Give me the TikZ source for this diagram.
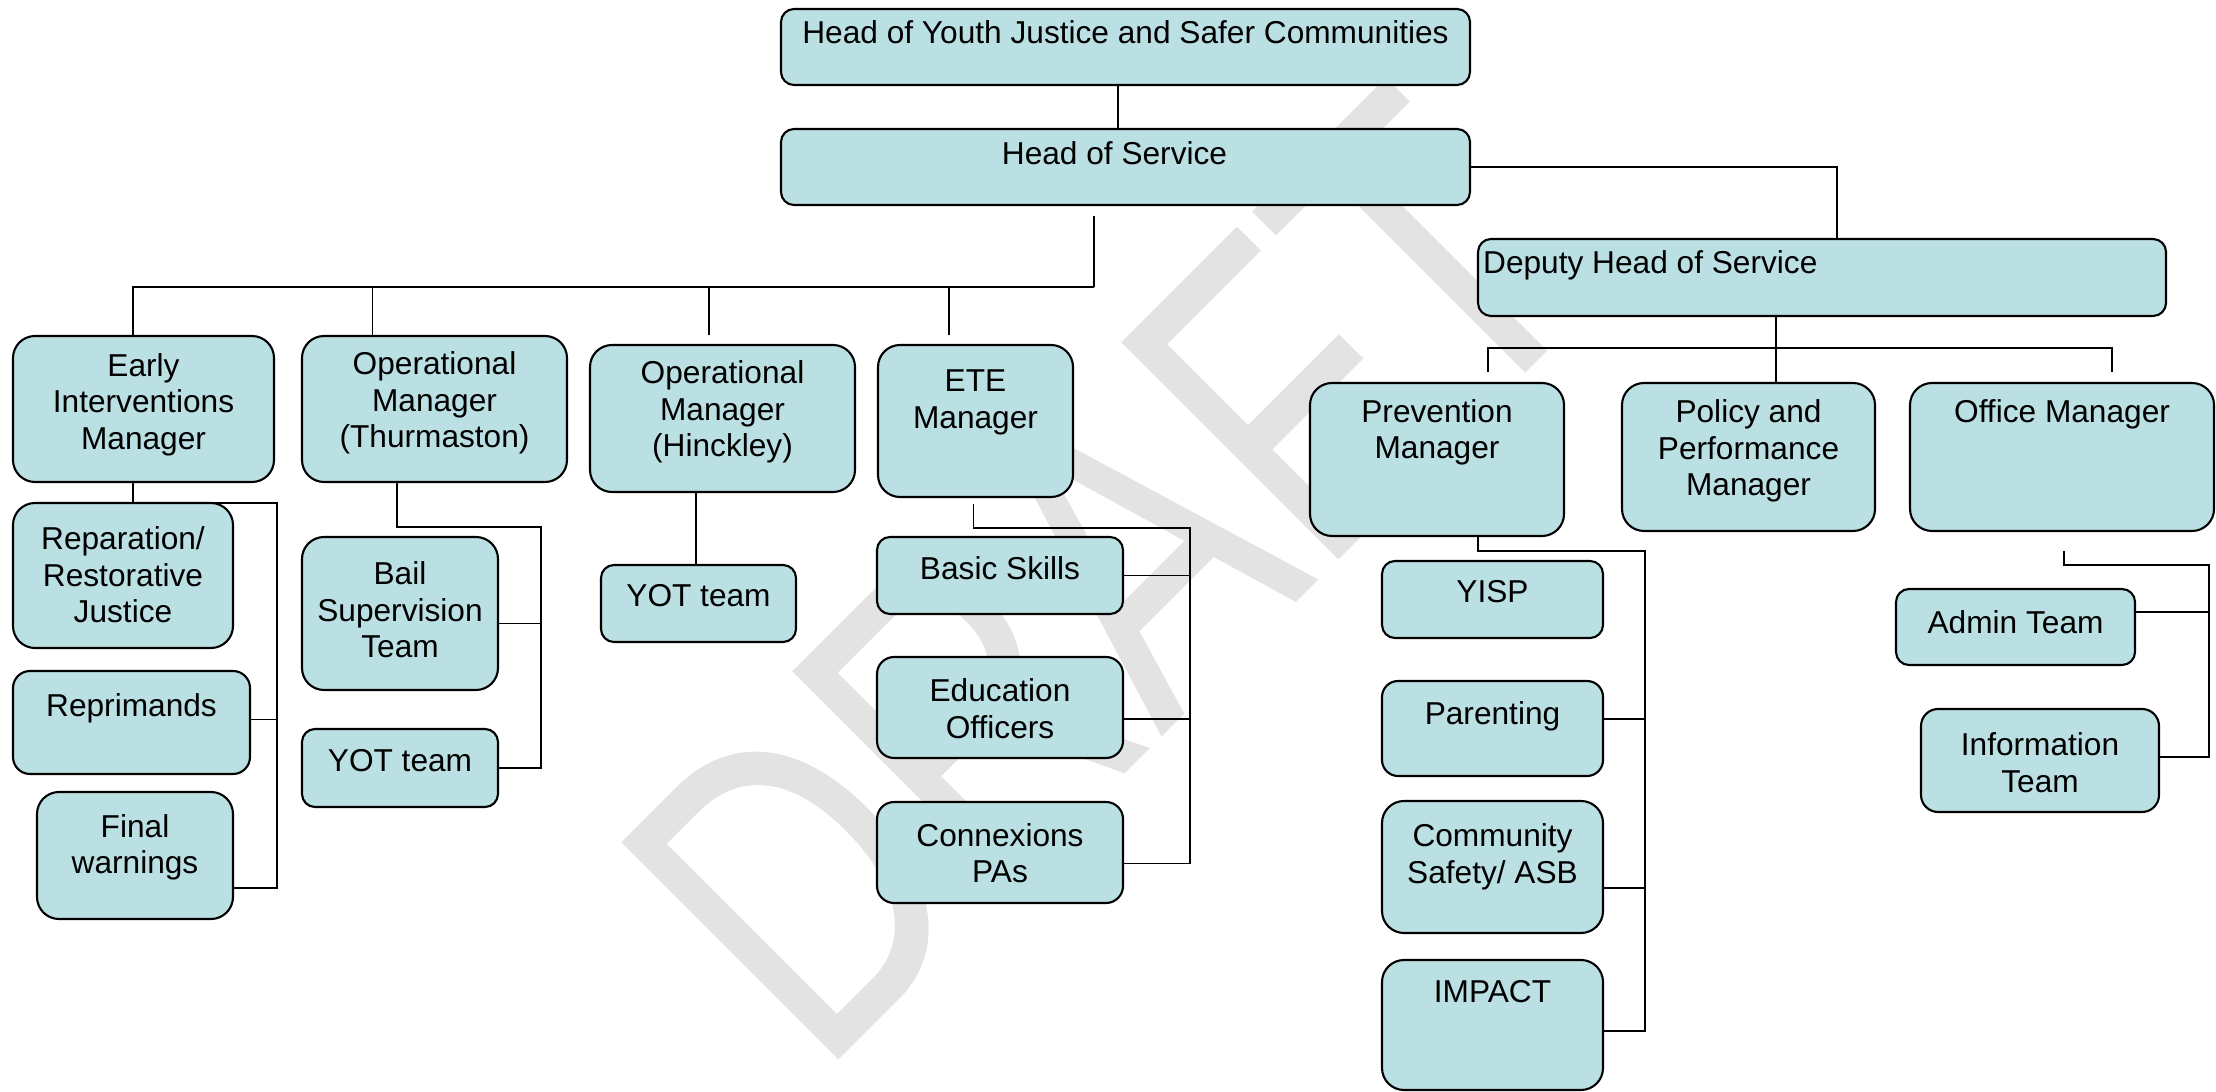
\documentclass[tikz,border=0pt]{standalone}
\usepackage{fontspec}
\setmainfont{Liberation Sans}
\usetikzlibrary{fit,positioning}
\definecolor{boxfill}{RGB}{187,224,227}

\begin{document}
\begin{tikzpicture}[x=0.01cm, y=-0.01cm,
   post/.style={draw, line width=0.6pt, fill=boxfill, rounded corners=0.22cm, inner sep=0pt},
   short post/.style={post, rounded corners=0.13cm},
   lbl/.style={anchor=north, align=center, inner sep=0pt, font=\fontsize{9}{10.4}\selectfont},
   link/.style={line width=0.55pt}]
   \useasboundingbox (0,0) rectangle (2216,1092);

   % watermark
   \node[rotate=45, anchor=base west, inner sep=0pt, text=black!11,
         font=\fontsize{127}{127}\selectfont] (draft) at (819,1080) {\scalebox{0.75}[1]{DRAFT}};

   % top of the chart
   \node[short post, fit={(781,9) (1470,85)},
         label={[lbl, yshift=-0.12cm]north:Head of Youth Justice and Safer Communities}] (hyj) {};
   \node[short post, fit={(781,129) (1470,205)},
         label={[lbl, xshift=-0.11cm, yshift=-0.127cm]north:Head of Service}] (hos) {};
   \node[short post, fit={(1478,239) (2166,316)},
         label={[lbl, anchor=north west, xshift=0.055cm, yshift=-0.12cm]north west:Deputy Head of Service}] (deputy) {};

   % managers
   \node[post, fit={(13,336) (274,482)}, label={[lbl, yshift=-0.176cm]north:Early\\Interventions\\Manager}] (early) {};
   \node[post, fit={(302,336) (567,482)}, label={[lbl, yshift=-0.16cm]north:Operational\\Manager\\(Thurmaston)}] (thurm) {};
   \node[post, fit={(590,345) (855,492)}, label={[lbl, yshift=-0.16cm]north:Operational\\Manager\\(Hinckley)}] (hinck) {};
   \node[post, fit={(878,345) (1073,497)}, label={[lbl, yshift=-0.25cm]north:ETE\\Manager}] (ete) {};
   \node[post, fit={(1310,383) (1564,536)}, label={[lbl, yshift=-0.165cm]north:Prevention\\Manager}] (prevention) {};
   \node[post, fit={(1622,383) (1875,531)}, label={[lbl, yshift=-0.17cm]north:Policy and\\Performance\\Manager}] (policy) {};
   \node[post, fit={(1910,383) (2214,531)}, label={[lbl, yshift=-0.17cm]north:Office Manager}] (office) {};

   % teams
   \node[post, fit={(13,503) (233,648)}, label={[lbl, yshift=-0.24cm]north:Reparation/\\Restorative\\Justice}] (reparation) {};
   \node[post, rounded corners=0.17cm, fit={(13,671) (250,774)}, label={[lbl, yshift=-0.23cm]north:Reprimands}] (reprimands) {};
   \node[post, fit={(37,792) (233,919)}, label={[lbl, yshift=-0.225cm]north:Final\\warnings}] (final) {};
   \node[post, fit={(302,537) (498,690)}, label={[lbl, yshift=-0.25cm]north:Bail\\Supervision\\Team}] (bail) {};
   \node[short post, fit={(302,729) (498,807)}, label={[lbl, yshift=-0.21cm]north:YOT team}] (yotth) {};
   \node[short post, fit={(601,565) (796,642)}, label={[lbl, yshift=-0.2cm]north:YOT team}] (yothk) {};
   \node[short post, fit={(877,537) (1123,614)}, label={[lbl, yshift=-0.2cm]north:Basic Skills}] (basic) {};
   \node[post, rounded corners=0.17cm, fit={(877,657) (1123,758)}, label={[lbl, yshift=-0.22cm]north:Education\\Officers}] (educ) {};
   \node[post, rounded corners=0.17cm, fit={(877,802) (1123,903)}, label={[lbl, yshift=-0.215cm]north:Connexions\\PAs}] (connex) {};
   \node[short post, fit={(1382,561) (1603,638)}, label={[lbl, yshift=-0.2cm]north:YISP}] (yisp) {};
   \node[post, rounded corners=0.16cm, fit={(1382,681) (1603,776)}, label={[lbl, yshift=-0.21cm]north:Parenting}] (parenting) {};
   \node[post, fit={(1382,801) (1603,933)}, label={[lbl, yshift=-0.23cm]north:Community\\Safety/ ASB}] (community) {};
   \node[post, fit={(1382,960) (1603,1090)}, label={[lbl, yshift=-0.21cm]north:IMPACT}] (impact) {};
   \node[short post, fit={(1896,589) (2135,665)}, label={[lbl, yshift=-0.22cm]north:Admin Team}] (admin) {};
   \node[post, rounded corners=0.17cm, fit={(1921,709) (2159,812)}, label={[lbl, yshift=-0.24cm]north:Information\\Team}] (info) {};

   % junctions
   \coordinate (hosbus) at (1094,287);
   \coordinate (eispine) at (277,503);
   \coordinate (thspine) at (541,527);
   \coordinate (etespine) at (1190,528);
   \coordinate (depbus) at (1776,348);
   \coordinate (prvspine) at (1645,551);
   \coordinate (offspine) at (2209,565);

   % lines
   \draw[link] ([xshift=-0.075cm]hyj.south) -- ([xshift=-0.075cm]hos.north);
   \draw[link] ([xshift=-0.315cm, yshift=-0.1cm]hos.south) |- (hosbus) -| ([xshift=-0.104cm]early.north);
   \draw[link] ([xshift=-0.62cm]thurm.north) -- ([xshift=-0.62cm]thurm.north |- hosbus);
   \draw[link] ([xshift=-0.138cm, yshift=0.087cm]hinck.north) -- ([xshift=-0.138cm]hinck.north |- hosbus);
   \draw[link] ([xshift=-0.265cm, yshift=0.087cm]ete.north) -- ([xshift=-0.265cm]ete.north |- hosbus);

   \draw[link] ([xshift=-0.104cm]early.south) |- (eispine) |- ([yshift=-0.325cm]final.east);
   \draw[link] ([yshift=0.03cm]reprimands.east) -- ([yshift=0.03cm]reprimands.east -| eispine);

   \draw[link] ([xshift=-0.375cm]thurm.south) |- (thspine) |- (yotth.east);
   \draw[link] ([yshift=-0.1cm]bail.east) -- ([yshift=-0.1cm]bail.east -| thspine);

   \draw[link] ([xshift=-0.025cm]yothk.north) -- ([xshift=-0.025cm]yothk.north |- hinck.south);

   \draw[link] ([xshift=-0.02cm, yshift=-0.06cm]ete.south) |- (etespine) |- ([yshift=-0.11cm]connex.east);
   \draw[link] (basic.east) -- (basic.east -| etespine);
   \draw[link] ([yshift=-0.115cm]educ.east) -- ([yshift=-0.115cm]educ.east -| etespine);

   \draw[link] (hos.east) -| ([xshift=0.15cm]deputy.north);
   \draw[link] ([xshift=-0.462cm]deputy.south) -- ([xshift=-0.462cm]deputy.south |- policy.north);
   \draw[link] ([xshift=0.51cm, yshift=0.1cm]prevention.north) |- (depbus) -| ([xshift=0.495cm, yshift=0.1cm]office.north);

   \draw[link] ([xshift=0.41cm]prevention.south) |- (prvspine) |- ([yshift=-0.063cm]impact.east);
   \draw[link] ([yshift=0.095cm]parenting.east) -- ([yshift=0.095cm]parenting.east -| prvspine);
   \draw[link] ([yshift=-0.21cm]community.east) -- ([yshift=-0.21cm]community.east -| prvspine);

   \draw[link] ([xshift=0.02cm, yshift=-0.19cm]office.south) |- (offspine) |- ([yshift=0.038cm]info.east);
   \draw[link] ([yshift=0.15cm]admin.east) -- ([yshift=0.15cm]admin.east -| offspine);
\end{tikzpicture}
\end{document}
